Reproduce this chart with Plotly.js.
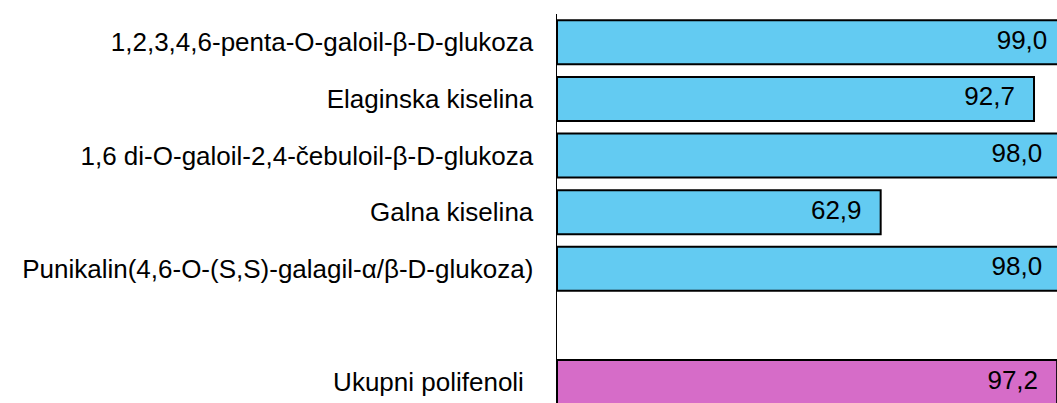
<!DOCTYPE html>
<html>
<head>
<meta charset="utf-8">
<script src="https://cdn.plot.ly/plotly-3.0.1.min.js"></script>
<style>html,body{margin:0;padding:0;background:#fff;overflow:hidden;width:1057px;height:403px;}#chart{width:1069px;height:403px;}</style>
</head>
<body>
<div id="chart"></div>
<script>
// Categories (top to bottom); a blank slot separates the total
const compounds = [
  "1,2,3,4,6-penta-O-galoil-β-D-glukoza",
  "Elaginska kiselina",
  "1,6 di-O-galoil-2,4-čebuloil-β-D-glukoza",
  "Galna kiselina",
  "Punikalin(4,6-O-(S,S)-galagil-α/β-D-glukoza)"
];
const compoundValues = [99.0, 92.7, 98.0, 62.9, 98.0];
const blankSlot = " ";
const totalLabel = "Ukupni polifenoli\u00a0\u200a";
const totalValue = [97.2];

const categoryOrder = [...compounds, blankSlot, totalLabel];
const allLabels = [...compounds, totalLabel];
const allValues = [...compoundValues, ...totalValue];

const blue = "#63CBF2";
const pink = "#D66CC8";

const traces = [
  {
    type: "bar", orientation: "h",
    x: compoundValues, y: compounds,
    marker: {color: blue, line: {color: "#000", width: 2}},
    hoverinfo: "skip", cliponaxis: true
  },
  {
    type: "bar", orientation: "h",
    x: totalValue, y: [totalLabel],
    marker: {color: pink, line: {color: "#000", width: 2}},
    hoverinfo: "skip", cliponaxis: true
  },
  {
    type: "scatter", mode: "markers+text",
    x: allValues, y: allLabels,
    texttemplate: "%{x:.1f}",
    textposition: "middle left",
    textfont: {family: "Liberation Sans, Arial, sans-serif", size: 26, color: "#000"},
    marker: {size: 29, opacity: 0},
    cliponaxis: false, hoverinfo: "skip"
  }
];

const layout = {
  width: 1069, height: 403,
  margin: {l: 557, r: 0, t: 14, b: 0, pad: 0},
  paper_bgcolor: "#fff", plot_bgcolor: "#fff",
  showlegend: false,
  separators: ",.",
  barmode: "overlay",
  bargap: 0.223,
  font: {family: "Liberation Sans, Arial, sans-serif", size: 26, color: "#000"},
  xaxis: {
    range: [0, 99.5], visible: false, showgrid: false, zeroline: false, fixedrange: true
  },
  yaxis: {
    type: "category",
    categoryorder: "array", categoryarray: categoryOrder,
    range: [6.37, -0.5],
    showline: true, linecolor: "#000", linewidth: 1.5,
    showgrid: false, zeroline: false, ticks: "",
    ticklabelstandoff: 17,
    tickfont: {family: "Liberation Sans, Arial, sans-serif", size: 26, color: "#000"},
    fixedrange: true
  }
};

Plotly.newPlot("chart", traces, layout, {displayModeBar: false, staticPlot: true});
</script>
</body>
</html>
